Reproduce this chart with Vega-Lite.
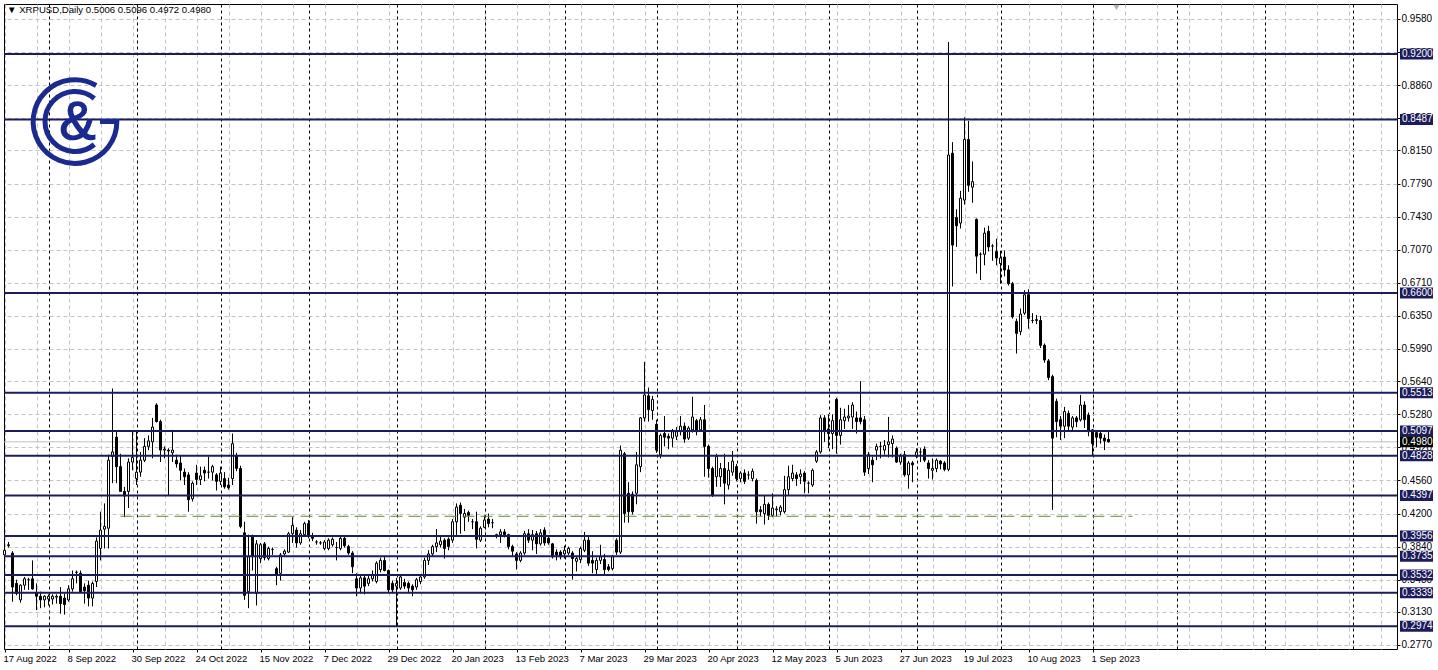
{
"$schema":"https://vega.github.io/schema/vega-lite/v6.json",
"width":1393,"height":645,
"autosize":{"type":"none"},
"padding":{"left":4,"top":4,"right":41,"bottom":21},
"background":"white",
"title":{"text":"▼ XRPUSD,Daily  0.5006 0.5096 0.4972 0.4980","anchor":"start","frame":"group","offset":-11,"dx":3,"fontSize":9.6,"fontWeight":"normal","font":"Liberation Sans","color":"black"},
"config":{"view":{"stroke":"black","strokeWidth":1},"axis":{"labelFont":"Liberation Sans","labelFontSize":10,"labelColor":"black","domain":false,"title":null,"zindex":0},"text":{"font":"Liberation Sans"}},
"resolve":{"axis":{"x":"independent","y":"independent"}},
"datasets":{
"levels":[{"v":0.92},{"v":0.8487},{"v":0.66},{"v":0.5513},{"v":0.5097},{"v":0.4828},{"v":0.4397},{"v":0.3956},{"v":0.3735},{"v":0.3532},{"v":0.3339},{"v":0.2974}],
"candles":[
{"d":"2022-08-17","o":0.375,"h":0.389,"l":0.366,"c":0.380},
{"d":"2022-08-18","o":0.385,"h":0.389,"l":0.383,"c":0.386},
{"d":"2022-08-19","o":0.377,"h":0.379,"l":0.324,"c":0.340},
{"d":"2022-08-22","o":0.344,"h":0.348,"l":0.331,"c":0.333},
{"d":"2022-08-23","o":0.326,"h":0.343,"l":0.323,"c":0.342},
{"d":"2022-08-24","o":0.342,"h":0.351,"l":0.337,"c":0.349},
{"d":"2022-08-25","o":0.348,"h":0.350,"l":0.337,"c":0.348},
{"d":"2022-08-26","o":0.349,"h":0.369,"l":0.337,"c":0.338},
{"d":"2022-08-29","o":0.334,"h":0.344,"l":0.315,"c":0.330},
{"d":"2022-08-30","o":0.330,"h":0.335,"l":0.317,"c":0.326},
{"d":"2022-08-31","o":0.326,"h":0.331,"l":0.318,"c":0.330},
{"d":"2022-09-01","o":0.327,"h":0.332,"l":0.320,"c":0.330},
{"d":"2022-09-02","o":0.327,"h":0.332,"l":0.321,"c":0.330},
{"d":"2022-09-05","o":0.329,"h":0.332,"l":0.322,"c":0.330},
{"d":"2022-09-06","o":0.330,"h":0.340,"l":0.311,"c":0.322},
{"d":"2022-09-07","o":0.328,"h":0.333,"l":0.310,"c":0.321},
{"d":"2022-09-08","o":0.326,"h":0.342,"l":0.324,"c":0.338},
{"d":"2022-09-09","o":0.338,"h":0.358,"l":0.335,"c":0.349},
{"d":"2022-09-12","o":0.356,"h":0.358,"l":0.344,"c":0.356},
{"d":"2022-09-13","o":0.355,"h":0.358,"l":0.334,"c":0.335},
{"d":"2022-09-14","o":0.340,"h":0.344,"l":0.322,"c":0.336},
{"d":"2022-09-15","o":0.342,"h":0.347,"l":0.319,"c":0.328},
{"d":"2022-09-16","o":0.328,"h":0.346,"l":0.319,"c":0.344},
{"d":"2022-09-19","o":0.346,"h":0.394,"l":0.340,"c":0.390},
{"d":"2022-09-20","o":0.382,"h":0.422,"l":0.369,"c":0.402},
{"d":"2022-09-21","o":0.403,"h":0.431,"l":0.382,"c":0.406},
{"d":"2022-09-22","o":0.404,"h":0.484,"l":0.382,"c":0.478},
{"d":"2022-09-23","o":0.482,"h":0.556,"l":0.453,"c":0.487},
{"d":"2022-09-26","o":0.503,"h":0.509,"l":0.453,"c":0.471},
{"d":"2022-09-27","o":0.471,"h":0.485,"l":0.444,"c":0.444},
{"d":"2022-09-28","o":0.444,"h":0.449,"l":0.416,"c":0.439},
{"d":"2022-09-29","o":0.444,"h":0.480,"l":0.426,"c":0.476},
{"d":"2022-09-30","o":0.476,"h":0.509,"l":0.467,"c":0.481},
{"d":"2022-10-03","o":0.458,"h":0.509,"l":0.451,"c":0.465},
{"d":"2022-10-04","o":0.465,"h":0.487,"l":0.460,"c":0.478},
{"d":"2022-10-05","o":0.478,"h":0.502,"l":0.476,"c":0.493},
{"d":"2022-10-06","o":0.493,"h":0.505,"l":0.489,"c":0.499},
{"d":"2022-10-07","o":0.498,"h":0.524,"l":0.480,"c":0.514},
{"d":"2022-10-10","o":0.538,"h":0.540,"l":0.519,"c":0.520},
{"d":"2022-10-11","o":0.520,"h":0.522,"l":0.476,"c":0.489},
{"d":"2022-10-12","o":0.489,"h":0.493,"l":0.480,"c":0.490},
{"d":"2022-10-13","o":0.489,"h":0.491,"l":0.440,"c":0.488},
{"d":"2022-10-14","o":0.486,"h":0.511,"l":0.476,"c":0.489},
{"d":"2022-10-17","o":0.478,"h":0.484,"l":0.470,"c":0.474},
{"d":"2022-10-18","o":0.475,"h":0.483,"l":0.456,"c":0.467},
{"d":"2022-10-19","o":0.465,"h":0.469,"l":0.451,"c":0.460},
{"d":"2022-10-20","o":0.462,"h":0.465,"l":0.422,"c":0.435},
{"d":"2022-10-21","o":0.436,"h":0.455,"l":0.433,"c":0.453},
{"d":"2022-10-24","o":0.464,"h":0.473,"l":0.451,"c":0.457},
{"d":"2022-10-25","o":0.457,"h":0.471,"l":0.451,"c":0.461},
{"d":"2022-10-26","o":0.467,"h":0.471,"l":0.455,"c":0.464},
{"d":"2022-10-27","o":0.465,"h":0.482,"l":0.458,"c":0.465},
{"d":"2022-10-28","o":0.465,"h":0.473,"l":0.456,"c":0.471},
{"d":"2022-10-31","o":0.462,"h":0.464,"l":0.445,"c":0.455},
{"d":"2022-11-01","o":0.455,"h":0.471,"l":0.451,"c":0.464},
{"d":"2022-11-02","o":0.458,"h":0.465,"l":0.447,"c":0.449},
{"d":"2022-11-03","o":0.451,"h":0.459,"l":0.446,"c":0.448},
{"d":"2022-11-04","o":0.458,"h":0.507,"l":0.451,"c":0.496},
{"d":"2022-11-07","o":0.483,"h":0.486,"l":0.466,"c":0.469},
{"d":"2022-11-08","o":0.469,"h":0.472,"l":0.404,"c":0.406},
{"d":"2022-11-09","o":0.399,"h":0.411,"l":0.326,"c":0.331},
{"d":"2022-11-10","o":0.335,"h":0.397,"l":0.317,"c":0.373},
{"d":"2022-11-11","o":0.395,"h":0.397,"l":0.358,"c":0.373},
{"d":"2022-11-14","o":0.333,"h":0.391,"l":0.320,"c":0.387},
{"d":"2022-11-15","o":0.371,"h":0.388,"l":0.366,"c":0.386},
{"d":"2022-11-16","o":0.387,"h":0.389,"l":0.369,"c":0.372},
{"d":"2022-11-17","o":0.371,"h":0.384,"l":0.369,"c":0.382},
{"d":"2022-11-18","o":0.381,"h":0.383,"l":0.375,"c":0.381},
{"d":"2022-11-21","o":0.360,"h":0.362,"l":0.342,"c":0.353},
{"d":"2022-11-22","o":0.355,"h":0.377,"l":0.347,"c":0.375},
{"d":"2022-11-23","o":0.376,"h":0.381,"l":0.374,"c":0.379},
{"d":"2022-11-24","o":0.378,"h":0.400,"l":0.377,"c":0.398},
{"d":"2022-11-25","o":0.398,"h":0.416,"l":0.388,"c":0.407},
{"d":"2022-11-28","o":0.402,"h":0.405,"l":0.383,"c":0.388},
{"d":"2022-11-29","o":0.388,"h":0.402,"l":0.386,"c":0.398},
{"d":"2022-11-30","o":0.397,"h":0.411,"l":0.395,"c":0.409},
{"d":"2022-12-01","o":0.409,"h":0.413,"l":0.393,"c":0.395},
{"d":"2022-12-02","o":0.396,"h":0.399,"l":0.390,"c":0.393},
{"d":"2022-12-05","o":0.389,"h":0.391,"l":0.386,"c":0.389},
{"d":"2022-12-06","o":0.388,"h":0.390,"l":0.386,"c":0.388},
{"d":"2022-12-07","o":0.382,"h":0.391,"l":0.380,"c":0.389},
{"d":"2022-12-08","o":0.382,"h":0.393,"l":0.380,"c":0.391},
{"d":"2022-12-09","o":0.386,"h":0.394,"l":0.384,"c":0.392},
{"d":"2022-12-12","o":0.383,"h":0.389,"l":0.369,"c":0.383},
{"d":"2022-12-13","o":0.382,"h":0.395,"l":0.380,"c":0.393},
{"d":"2022-12-14","o":0.393,"h":0.395,"l":0.383,"c":0.385},
{"d":"2022-12-15","o":0.384,"h":0.386,"l":0.375,"c":0.377},
{"d":"2022-12-16","o":0.377,"h":0.379,"l":0.355,"c":0.362},
{"d":"2022-12-19","o":0.349,"h":0.355,"l":0.330,"c":0.339},
{"d":"2022-12-20","o":0.339,"h":0.352,"l":0.333,"c":0.350},
{"d":"2022-12-21","o":0.350,"h":0.352,"l":0.332,"c":0.341},
{"d":"2022-12-22","o":0.344,"h":0.352,"l":0.341,"c":0.349},
{"d":"2022-12-23","o":0.349,"h":0.358,"l":0.346,"c":0.353},
{"d":"2022-12-26","o":0.346,"h":0.368,"l":0.344,"c":0.366},
{"d":"2022-12-27","o":0.359,"h":0.372,"l":0.356,"c":0.369},
{"d":"2022-12-28","o":0.369,"h":0.373,"l":0.357,"c":0.358},
{"d":"2022-12-29","o":0.358,"h":0.359,"l":0.334,"c":0.337},
{"d":"2022-12-30","o":0.344,"h":0.347,"l":0.333,"c":0.337},
{"d":"2023-01-02","o":0.341,"h":0.350,"l":0.297,"c":0.344},
{"d":"2023-01-03","o":0.339,"h":0.352,"l":0.337,"c":0.351},
{"d":"2023-01-04","o":0.345,"h":0.349,"l":0.338,"c":0.341},
{"d":"2023-01-05","o":0.344,"h":0.346,"l":0.333,"c":0.339},
{"d":"2023-01-06","o":0.341,"h":0.343,"l":0.330,"c":0.337},
{"d":"2023-01-09","o":0.340,"h":0.350,"l":0.337,"c":0.348},
{"d":"2023-01-10","o":0.346,"h":0.354,"l":0.343,"c":0.351},
{"d":"2023-01-11","o":0.351,"h":0.372,"l":0.349,"c":0.369},
{"d":"2023-01-12","o":0.369,"h":0.380,"l":0.364,"c":0.376},
{"d":"2023-01-13","o":0.376,"h":0.386,"l":0.373,"c":0.384},
{"d":"2023-01-16","o":0.384,"h":0.403,"l":0.378,"c":0.388},
{"d":"2023-01-17","o":0.386,"h":0.395,"l":0.383,"c":0.390},
{"d":"2023-01-18","o":0.391,"h":0.393,"l":0.371,"c":0.382},
{"d":"2023-01-19","o":0.392,"h":0.394,"l":0.380,"c":0.384},
{"d":"2023-01-20","o":0.391,"h":0.414,"l":0.388,"c":0.411},
{"d":"2023-01-23","o":0.411,"h":0.431,"l":0.395,"c":0.427},
{"d":"2023-01-24","o":0.429,"h":0.432,"l":0.398,"c":0.420},
{"d":"2023-01-25","o":0.416,"h":0.425,"l":0.401,"c":0.420},
{"d":"2023-01-26","o":0.421,"h":0.423,"l":0.411,"c":0.418},
{"d":"2023-01-27","o":0.411,"h":0.414,"l":0.403,"c":0.411},
{"d":"2023-01-30","o":0.411,"h":0.422,"l":0.382,"c":0.392},
{"d":"2023-01-31","o":0.391,"h":0.406,"l":0.389,"c":0.404},
{"d":"2023-02-01","o":0.405,"h":0.418,"l":0.404,"c":0.413},
{"d":"2023-02-02","o":0.414,"h":0.420,"l":0.405,"c":0.409},
{"d":"2023-02-03","o":0.410,"h":0.414,"l":0.404,"c":0.410},
{"d":"2023-02-06","o":0.397,"h":0.398,"l":0.393,"c":0.396},
{"d":"2023-02-07","o":0.397,"h":0.403,"l":0.388,"c":0.400},
{"d":"2023-02-08","o":0.400,"h":0.403,"l":0.394,"c":0.397},
{"d":"2023-02-09","o":0.397,"h":0.398,"l":0.381,"c":0.384},
{"d":"2023-02-10","o":0.384,"h":0.386,"l":0.373,"c":0.379},
{"d":"2023-02-13","o":0.376,"h":0.378,"l":0.359,"c":0.369},
{"d":"2023-02-14","o":0.369,"h":0.379,"l":0.367,"c":0.377},
{"d":"2023-02-15","o":0.377,"h":0.401,"l":0.375,"c":0.398},
{"d":"2023-02-16","o":0.398,"h":0.403,"l":0.388,"c":0.391},
{"d":"2023-02-17","o":0.391,"h":0.402,"l":0.380,"c":0.397},
{"d":"2023-02-20","o":0.398,"h":0.401,"l":0.376,"c":0.387},
{"d":"2023-02-21","o":0.387,"h":0.403,"l":0.385,"c":0.399},
{"d":"2023-02-22","o":0.402,"h":0.405,"l":0.385,"c":0.388},
{"d":"2023-02-23","o":0.393,"h":0.396,"l":0.386,"c":0.388},
{"d":"2023-02-24","o":0.387,"h":0.388,"l":0.371,"c":0.373},
{"d":"2023-02-27","o":0.378,"h":0.381,"l":0.369,"c":0.375},
{"d":"2023-02-28","o":0.378,"h":0.380,"l":0.370,"c":0.373},
{"d":"2023-03-01","o":0.376,"h":0.385,"l":0.371,"c":0.380},
{"d":"2023-03-02","o":0.377,"h":0.384,"l":0.375,"c":0.382},
{"d":"2023-03-03","o":0.377,"h":0.379,"l":0.348,"c":0.371},
{"d":"2023-03-06","o":0.368,"h":0.373,"l":0.357,"c":0.371},
{"d":"2023-03-07","o":0.370,"h":0.384,"l":0.366,"c":0.382},
{"d":"2023-03-08","o":0.380,"h":0.400,"l":0.378,"c":0.391},
{"d":"2023-03-09","o":0.391,"h":0.395,"l":0.363,"c":0.366},
{"d":"2023-03-10","o":0.369,"h":0.379,"l":0.355,"c":0.366},
{"d":"2023-03-13","o":0.359,"h":0.372,"l":0.353,"c":0.369},
{"d":"2023-03-14","o":0.369,"h":0.386,"l":0.365,"c":0.373},
{"d":"2023-03-15","o":0.370,"h":0.376,"l":0.353,"c":0.359},
{"d":"2023-03-16","o":0.362,"h":0.365,"l":0.357,"c":0.359},
{"d":"2023-03-17","o":0.360,"h":0.375,"l":0.358,"c":0.373},
{"d":"2023-03-20","o":0.391,"h":0.393,"l":0.375,"c":0.378},
{"d":"2023-03-21","o":0.378,"h":0.494,"l":0.376,"c":0.489},
{"d":"2023-03-22","o":0.485,"h":0.487,"l":0.410,"c":0.420},
{"d":"2023-03-23","o":0.442,"h":0.454,"l":0.410,"c":0.422},
{"d":"2023-03-24","o":0.441,"h":0.444,"l":0.419,"c":0.422},
{"d":"2023-03-27","o":0.442,"h":0.487,"l":0.430,"c":0.473},
{"d":"2023-03-28","o":0.471,"h":0.525,"l":0.465,"c":0.524},
{"d":"2023-03-29","o":0.524,"h":0.585,"l":0.520,"c":0.549},
{"d":"2023-03-30","o":0.548,"h":0.557,"l":0.520,"c":0.533},
{"d":"2023-03-31","o":0.532,"h":0.548,"l":0.522,"c":0.544},
{"d":"2023-04-03","o":0.517,"h":0.522,"l":0.486,"c":0.489},
{"d":"2023-04-04","o":0.484,"h":0.507,"l":0.480,"c":0.505},
{"d":"2023-04-05","o":0.507,"h":0.526,"l":0.493,"c":0.503},
{"d":"2023-04-06","o":0.504,"h":0.507,"l":0.490,"c":0.502},
{"d":"2023-04-07","o":0.502,"h":0.512,"l":0.492,"c":0.509},
{"d":"2023-04-10","o":0.504,"h":0.514,"l":0.500,"c":0.509},
{"d":"2023-04-11","o":0.509,"h":0.526,"l":0.505,"c":0.515},
{"d":"2023-04-12","o":0.515,"h":0.519,"l":0.497,"c":0.501},
{"d":"2023-04-13","o":0.502,"h":0.515,"l":0.500,"c":0.513},
{"d":"2023-04-14","o":0.511,"h":0.547,"l":0.508,"c":0.525},
{"d":"2023-04-17","o":0.521,"h":0.523,"l":0.505,"c":0.509},
{"d":"2023-04-18","o":0.511,"h":0.525,"l":0.509,"c":0.522},
{"d":"2023-04-19","o":0.522,"h":0.538,"l":0.460,"c":0.493},
{"d":"2023-04-20","o":0.493,"h":0.495,"l":0.459,"c":0.469},
{"d":"2023-04-21","o":0.469,"h":0.471,"l":0.438,"c":0.440},
{"d":"2023-04-24","o":0.460,"h":0.485,"l":0.449,"c":0.482},
{"d":"2023-04-25","o":0.460,"h":0.475,"l":0.449,"c":0.469},
{"d":"2023-04-26","o":0.469,"h":0.485,"l":0.430,"c":0.453},
{"d":"2023-04-27","o":0.451,"h":0.476,"l":0.446,"c":0.467},
{"d":"2023-04-28","o":0.465,"h":0.488,"l":0.461,"c":0.477},
{"d":"2023-05-01","o":0.471,"h":0.474,"l":0.455,"c":0.458},
{"d":"2023-05-02","o":0.458,"h":0.466,"l":0.454,"c":0.464},
{"d":"2023-05-03","o":0.464,"h":0.468,"l":0.452,"c":0.455},
{"d":"2023-05-04","o":0.462,"h":0.466,"l":0.457,"c":0.462},
{"d":"2023-05-05","o":0.458,"h":0.469,"l":0.455,"c":0.466},
{"d":"2023-05-08","o":0.456,"h":0.458,"l":0.409,"c":0.422},
{"d":"2023-05-09","o":0.424,"h":0.428,"l":0.417,"c":0.422},
{"d":"2023-05-10","o":0.420,"h":0.440,"l":0.408,"c":0.430},
{"d":"2023-05-11","o":0.430,"h":0.432,"l":0.413,"c":0.418},
{"d":"2023-05-12","o":0.418,"h":0.442,"l":0.416,"c":0.426},
{"d":"2023-05-15","o":0.424,"h":0.428,"l":0.417,"c":0.425},
{"d":"2023-05-16","o":0.422,"h":0.429,"l":0.418,"c":0.427},
{"d":"2023-05-17","o":0.422,"h":0.461,"l":0.420,"c":0.446},
{"d":"2023-05-18","o":0.446,"h":0.472,"l":0.440,"c":0.460},
{"d":"2023-05-19","o":0.458,"h":0.473,"l":0.455,"c":0.464},
{"d":"2023-05-22","o":0.462,"h":0.465,"l":0.450,"c":0.458},
{"d":"2023-05-23","o":0.460,"h":0.468,"l":0.452,"c":0.463},
{"d":"2023-05-24","o":0.464,"h":0.466,"l":0.442,"c":0.455},
{"d":"2023-05-25","o":0.453,"h":0.455,"l":0.442,"c":0.453},
{"d":"2023-05-26","o":0.451,"h":0.469,"l":0.449,"c":0.467},
{"d":"2023-05-29","o":0.477,"h":0.489,"l":0.475,"c":0.487},
{"d":"2023-05-30","o":0.487,"h":0.527,"l":0.485,"c":0.524},
{"d":"2023-05-31","o":0.524,"h":0.527,"l":0.498,"c":0.509},
{"d":"2023-06-01","o":0.512,"h":0.528,"l":0.491,"c":0.507},
{"d":"2023-06-02","o":0.507,"h":0.528,"l":0.490,"c":0.521},
{"d":"2023-06-05","o":0.544,"h":0.546,"l":0.485,"c":0.505},
{"d":"2023-06-06","o":0.505,"h":0.535,"l":0.495,"c":0.522},
{"d":"2023-06-07","o":0.521,"h":0.534,"l":0.512,"c":0.525},
{"d":"2023-06-08","o":0.524,"h":0.538,"l":0.520,"c":0.526},
{"d":"2023-06-09","o":0.525,"h":0.541,"l":0.512,"c":0.538},
{"d":"2023-06-12","o":0.524,"h":0.531,"l":0.507,"c":0.520},
{"d":"2023-06-13","o":0.524,"h":0.564,"l":0.517,"c":0.520},
{"d":"2023-06-14","o":0.522,"h":0.526,"l":0.461,"c":0.465},
{"d":"2023-06-15","o":0.469,"h":0.487,"l":0.463,"c":0.484},
{"d":"2023-06-16","o":0.478,"h":0.482,"l":0.454,"c":0.473},
{"d":"2023-06-19","o":0.489,"h":0.496,"l":0.478,"c":0.493},
{"d":"2023-06-20","o":0.493,"h":0.498,"l":0.480,"c":0.493},
{"d":"2023-06-21","o":0.489,"h":0.500,"l":0.484,"c":0.494},
{"d":"2023-06-22","o":0.495,"h":0.525,"l":0.481,"c":0.498},
{"d":"2023-06-23","o":0.496,"h":0.505,"l":0.481,"c":0.501},
{"d":"2023-06-26","o":0.491,"h":0.493,"l":0.475,"c":0.476},
{"d":"2023-06-27","o":0.476,"h":0.485,"l":0.473,"c":0.482},
{"d":"2023-06-28","o":0.484,"h":0.488,"l":0.460,"c":0.462},
{"d":"2023-06-29","o":0.462,"h":0.477,"l":0.447,"c":0.475},
{"d":"2023-06-30","o":0.475,"h":0.477,"l":0.454,"c":0.473},
{"d":"2023-07-03","o":0.482,"h":0.491,"l":0.480,"c":0.487},
{"d":"2023-07-04","o":0.487,"h":0.491,"l":0.476,"c":0.487},
{"d":"2023-07-05","o":0.490,"h":0.493,"l":0.476,"c":0.478},
{"d":"2023-07-06","o":0.475,"h":0.478,"l":0.458,"c":0.469},
{"d":"2023-07-07","o":0.467,"h":0.480,"l":0.457,"c":0.469},
{"d":"2023-07-10","o":0.469,"h":0.480,"l":0.465,"c":0.478},
{"d":"2023-07-11","o":0.477,"h":0.478,"l":0.468,"c":0.474},
{"d":"2023-07-12","o":0.475,"h":0.477,"l":0.466,"c":0.468},
{"d":"2023-07-13","o":0.468,"h":0.933,"l":0.466,"c":0.810},
{"d":"2023-07-14","o":0.812,"h":0.824,"l":0.667,"c":0.712},
{"d":"2023-07-17","o":0.742,"h":0.751,"l":0.710,"c":0.733},
{"d":"2023-07-18","o":0.736,"h":0.771,"l":0.730,"c":0.763},
{"d":"2023-07-19","o":0.761,"h":0.851,"l":0.756,"c":0.827},
{"d":"2023-07-20","o":0.827,"h":0.847,"l":0.770,"c":0.777},
{"d":"2023-07-21","o":0.775,"h":0.803,"l":0.758,"c":0.781},
{"d":"2023-07-24","o":0.740,"h":0.741,"l":0.681,"c":0.700},
{"d":"2023-07-25","o":0.702,"h":0.704,"l":0.674,"c":0.702},
{"d":"2023-07-26","o":0.702,"h":0.731,"l":0.690,"c":0.725},
{"d":"2023-07-27","o":0.727,"h":0.733,"l":0.705,"c":0.710},
{"d":"2023-07-28","o":0.711,"h":0.713,"l":0.695,"c":0.711},
{"d":"2023-07-31","o":0.705,"h":0.719,"l":0.690,"c":0.698},
{"d":"2023-08-01","o":0.692,"h":0.706,"l":0.670,"c":0.698},
{"d":"2023-08-02","o":0.699,"h":0.706,"l":0.678,"c":0.685},
{"d":"2023-08-03","o":0.685,"h":0.690,"l":0.668,"c":0.670},
{"d":"2023-08-04","o":0.670,"h":0.672,"l":0.632,"c":0.634},
{"d":"2023-08-07","o":0.629,"h":0.632,"l":0.594,"c":0.616},
{"d":"2023-08-08","o":0.618,"h":0.643,"l":0.614,"c":0.637},
{"d":"2023-08-09","o":0.638,"h":0.663,"l":0.636,"c":0.658},
{"d":"2023-08-10","o":0.658,"h":0.664,"l":0.621,"c":0.632},
{"d":"2023-08-11","o":0.630,"h":0.638,"l":0.627,"c":0.630},
{"d":"2023-08-14","o":0.630,"h":0.636,"l":0.626,"c":0.631},
{"d":"2023-08-15","o":0.630,"h":0.635,"l":0.600,"c":0.603},
{"d":"2023-08-16","o":0.603,"h":0.605,"l":0.584,"c":0.587},
{"d":"2023-08-17","o":0.586,"h":0.588,"l":0.565,"c":0.568},
{"d":"2023-08-18","o":0.569,"h":0.571,"l":0.424,"c":0.502},
{"d":"2023-08-21","o":0.542,"h":0.545,"l":0.503,"c":0.520},
{"d":"2023-08-22","o":0.522,"h":0.526,"l":0.500,"c":0.515},
{"d":"2023-08-23","o":0.515,"h":0.536,"l":0.502,"c":0.531},
{"d":"2023-08-24","o":0.529,"h":0.532,"l":0.509,"c":0.515},
{"d":"2023-08-25","o":0.514,"h":0.526,"l":0.511,"c":0.524},
{"d":"2023-08-28","o":0.524,"h":0.526,"l":0.514,"c":0.520},
{"d":"2023-08-29","o":0.522,"h":0.549,"l":0.520,"c":0.538},
{"d":"2023-08-30","o":0.538,"h":0.542,"l":0.513,"c":0.522},
{"d":"2023-08-31","o":0.527,"h":0.530,"l":0.504,"c":0.509},
{"d":"2023-09-01","o":0.511,"h":0.512,"l":0.483,"c":0.496},
{"d":"2023-09-04","o":0.508,"h":0.510,"l":0.492,"c":0.503},
{"d":"2023-09-05","o":0.507,"h":0.510,"l":0.496,"c":0.502},
{"d":"2023-09-06","o":0.502,"h":0.506,"l":0.489,"c":0.499},
{"d":"2023-09-07","o":0.5006,"h":0.5096,"l":0.4972,"c":0.4980}
]},
"layer":[
{"data":{"values":[{}]},"mark":{"type":"rule","color":"#c0c0c0","strokeWidth":1},"encoding":{"y":{"datum":0.498,"type":"quantitative","axis":null}}},
{"data":{"name":"candles"},"mark":{"type":"rule","color":"black","strokeWidth":1},
 "encoding":{
  "x":{"field":"d","type":"ordinal","scale":{"type":"point","padding":0.125,"domain":["2022-08-17","2022-08-18","2022-08-19","2022-08-22","2022-08-23","2022-08-24","2022-08-25","2022-08-26","2022-08-29","2022-08-30","2022-08-31","2022-09-01","2022-09-02","2022-09-05","2022-09-06","2022-09-07","2022-09-08","2022-09-09","2022-09-12","2022-09-13","2022-09-14","2022-09-15","2022-09-16","2022-09-19","2022-09-20","2022-09-21","2022-09-22","2022-09-23","2022-09-26","2022-09-27","2022-09-28","2022-09-29","2022-09-30","2022-10-03","2022-10-04","2022-10-05","2022-10-06","2022-10-07","2022-10-10","2022-10-11","2022-10-12","2022-10-13","2022-10-14","2022-10-17","2022-10-18","2022-10-19","2022-10-20","2022-10-21","2022-10-24","2022-10-25","2022-10-26","2022-10-27","2022-10-28","2022-10-31","2022-11-01","2022-11-02","2022-11-03","2022-11-04","2022-11-07","2022-11-08","2022-11-09","2022-11-10","2022-11-11","2022-11-14","2022-11-15","2022-11-16","2022-11-17","2022-11-18","2022-11-21","2022-11-22","2022-11-23","2022-11-24","2022-11-25","2022-11-28","2022-11-29","2022-11-30","2022-12-01","2022-12-02","2022-12-05","2022-12-06","2022-12-07","2022-12-08","2022-12-09","2022-12-12","2022-12-13","2022-12-14","2022-12-15","2022-12-16","2022-12-19","2022-12-20","2022-12-21","2022-12-22","2022-12-23","2022-12-26","2022-12-27","2022-12-28","2022-12-29","2022-12-30","2023-01-02","2023-01-03","2023-01-04","2023-01-05","2023-01-06","2023-01-09","2023-01-10","2023-01-11","2023-01-12","2023-01-13","2023-01-16","2023-01-17","2023-01-18","2023-01-19","2023-01-20","2023-01-23","2023-01-24","2023-01-25","2023-01-26","2023-01-27","2023-01-30","2023-01-31","2023-02-01","2023-02-02","2023-02-03","2023-02-06","2023-02-07","2023-02-08","2023-02-09","2023-02-10","2023-02-13","2023-02-14","2023-02-15","2023-02-16","2023-02-17","2023-02-20","2023-02-21","2023-02-22","2023-02-23","2023-02-24","2023-02-27","2023-02-28","2023-03-01","2023-03-02","2023-03-03","2023-03-06","2023-03-07","2023-03-08","2023-03-09","2023-03-10","2023-03-13","2023-03-14","2023-03-15","2023-03-16","2023-03-17","2023-03-20","2023-03-21","2023-03-22","2023-03-23","2023-03-24","2023-03-27","2023-03-28","2023-03-29","2023-03-30","2023-03-31","2023-04-03","2023-04-04","2023-04-05","2023-04-06","2023-04-07","2023-04-10","2023-04-11","2023-04-12","2023-04-13","2023-04-14","2023-04-17","2023-04-18","2023-04-19","2023-04-20","2023-04-21","2023-04-24","2023-04-25","2023-04-26","2023-04-27","2023-04-28","2023-05-01","2023-05-02","2023-05-03","2023-05-04","2023-05-05","2023-05-08","2023-05-09","2023-05-10","2023-05-11","2023-05-12","2023-05-15","2023-05-16","2023-05-17","2023-05-18","2023-05-19","2023-05-22","2023-05-23","2023-05-24","2023-05-25","2023-05-26","2023-05-29","2023-05-30","2023-05-31","2023-06-01","2023-06-02","2023-06-05","2023-06-06","2023-06-07","2023-06-08","2023-06-09","2023-06-12","2023-06-13","2023-06-14","2023-06-15","2023-06-16","2023-06-19","2023-06-20","2023-06-21","2023-06-22","2023-06-23","2023-06-26","2023-06-27","2023-06-28","2023-06-29","2023-06-30","2023-07-03","2023-07-04","2023-07-05","2023-07-06","2023-07-07","2023-07-10","2023-07-11","2023-07-12","2023-07-13","2023-07-14","2023-07-17","2023-07-18","2023-07-19","2023-07-20","2023-07-21","2023-07-24","2023-07-25","2023-07-26","2023-07-27","2023-07-28","2023-07-31","2023-08-01","2023-08-02","2023-08-03","2023-08-04","2023-08-07","2023-08-08","2023-08-09","2023-08-10","2023-08-11","2023-08-14","2023-08-15","2023-08-16","2023-08-17","2023-08-18","2023-08-21","2023-08-22","2023-08-23","2023-08-24","2023-08-25","2023-08-28","2023-08-29","2023-08-30","2023-08-31","2023-09-01","2023-09-04","2023-09-05","2023-09-06","2023-09-07","2023-09-08","2023-09-11","2023-09-12","2023-09-13","2023-09-14","2023-09-15","2023-09-18","2023-09-19","2023-09-20","2023-09-21","2023-09-22","2023-09-25","2023-09-26","2023-09-27","2023-09-28","2023-09-29","2023-10-02","2023-10-03","2023-10-04","2023-10-05","2023-10-06","2023-10-09","2023-10-10","2023-10-11","2023-10-12","2023-10-13","2023-10-16","2023-10-17","2023-10-18","2023-10-19","2023-10-20","2023-10-23","2023-10-24","2023-10-25","2023-10-26","2023-10-27","2023-10-30","2023-10-31","2023-11-01","2023-11-02","2023-11-03","2023-11-06","2023-11-07","2023-11-08","2023-11-09","2023-11-10","2023-11-13","2023-11-14","2023-11-15","2023-11-16","2023-11-17","2023-11-20","2023-11-21","2023-11-22","2023-11-23","2023-11-24","2023-11-27","2023-11-28","2023-11-29","2023-11-30","2023-12-01","2023-12-04","2023-12-05","2023-12-06","2023-12-07","2023-12-08","2023-12-11","2023-12-12","2023-12-13","2023-12-14","2023-12-15","2023-12-18"]},
   "axis":{"orient":"bottom","title":null,"values":["2022-08-17","2022-09-08","2022-09-30","2022-10-24","2022-11-15","2022-12-07","2022-12-29","2023-01-20","2023-02-13","2023-03-07","2023-03-29","2023-04-20","2023-05-12","2023-06-05","2023-06-27","2023-07-19","2023-08-10","2023-09-01"],"labelExpr":"utcFormat(toDate(datum.value), '%-d %b %Y')","labelAlign":"left","labelBaseline":"top","labelAngle":0,"labelPadding":1,"labelOffset":-1.5,"labelFontSize":9.5,"tickSize":3,"tickColor":"black","grid":false,"domain":false,"labelOverlap":false,"labelBound":false}},
  "y":{"field":"l","type":"quantitative","scale":{"domain":[0.2726,0.9743],"nice":false,"zero":false},
   "axis":{"orient":"right","title":null,"values":[0.958,0.922,0.886,0.8505,0.815,0.779,0.743,0.707,0.671,0.635,0.599,0.564,0.528,0.492,0.456,0.42,0.384,0.348,0.313,0.277],"format":".4f","tickSize":3,"tickColor":"black","labelPadding":1,"labelBaseline":"middle","grid":true,"gridColor":"#c4c4c4","gridDash":[4,3],"domain":false,"labelOverlap":false,"labelBound":false}},
  "y2":{"field":"h"}}},
{"data":{"name":"candles"},"mark":{"type":"bar","width":2,"stroke":"black","strokeWidth":1},
 "encoding":{
  "x":{"field":"d","type":"ordinal","axis":{"orient":"bottom","title":null,"values":["2022-08-17","2022-08-29","2022-09-08","2022-09-20","2022-09-30","2022-10-12","2022-10-24","2022-11-03","2022-11-15","2022-11-25","2022-12-07","2022-12-19","2022-12-29","2023-01-10","2023-01-20","2023-02-01","2023-02-13","2023-02-23","2023-03-07","2023-03-17","2023-03-29","2023-04-10","2023-04-20","2023-05-02","2023-05-12","2023-05-24","2023-06-05","2023-06-15","2023-06-27","2023-07-07","2023-07-19","2023-07-31","2023-08-10","2023-08-22","2023-09-01","2023-09-13","2023-09-25","2023-10-05","2023-10-17","2023-10-27","2023-11-08","2023-11-20","2023-11-30","2023-12-12"],"labels":false,"ticks":false,"domain":false,"grid":true,"gridColor":"#c4c4c4","gridDash":[4,3]}},
  "y":{"field":"o","type":"quantitative","axis":null},
  "y2":{"field":"c"},
  "fill":{"condition":{"test":"datum.c >= datum.o","value":"white"},"value":"black"}}},
{"data":{"values":[{}]},"mark":{"type":"rule","color":"#5e8a2e","strokeWidth":1,"strokeDash":[12,6]},
 "encoding":{
  "x":{"datum":"2022-09-27","type":"ordinal","axis":{"orient":"bottom","title":null,"values":["2022-09-01","2022-10-03","2022-11-01","2022-12-01","2023-01-02","2023-02-01","2023-03-01","2023-04-03","2023-05-01","2023-06-01","2023-07-03","2023-08-01","2023-09-01","2023-10-02","2023-11-01","2023-12-01"],"labels":false,"ticks":false,"domain":false,"grid":true,"gridColor":"black","gridDash":[3,3]}},
  "x2":{"datum":"2023-09-15"},
  "y":{"datum":0.417,"type":"quantitative","axis":null}}},
{"data":{"name":"levels"},"mark":{"type":"rule","color":"#1c1c5c","strokeWidth":2},"encoding":{"y":{"field":"v","type":"quantitative","axis":null}}},
{"data":{"name":"levels"},"mark":{"type":"rect","color":"#1c1c5c","xOffset":3,"x2Offset":36,"yOffset":-5.5,"y2Offset":5.5},
 "encoding":{"x":{"value":"width"},"x2":{"value":"width"},"y":{"field":"v","type":"quantitative","axis":null},"y2":{"field":"v"}}},
{"data":{"name":"levels"},"mark":{"type":"text","align":"left","baseline":"middle","dx":5,"color":"white","fontSize":10,"font":"Liberation Sans"},
 "encoding":{"x":{"value":"width"},"y":{"field":"v","type":"quantitative","axis":null},"text":{"field":"v","type":"quantitative","format":".4f"}}},
{"data":{"values":[{}]},"mark":{"type":"rect","color":"black","xOffset":3,"x2Offset":36,"yOffset":-5.5,"y2Offset":5.5},
 "encoding":{"x":{"value":"width"},"x2":{"value":"width"},"y":{"datum":0.498,"type":"quantitative","axis":null},"y2":{"datum":0.498}}},
{"data":{"values":[{}]},"mark":{"type":"text","align":"left","baseline":"middle","dx":5,"color":"white","fontSize":10,"font":"Liberation Sans","text":"0.4980"},
 "encoding":{"x":{"value":"width"},"y":{"datum":0.498,"type":"quantitative","axis":null}}},
{"data":{"values":[{}]},"mark":{"type":"point","shape":"M0.47,-0.8A0.93,0.93,0,1,0,0.93,0L0.556,0M0.429,-0.511A0.667,0.667,0,1,0,0.429,0.511","size":8100,"filled":false,"stroke":"#1b2a8e","strokeWidth":5,"opacity":1,"xOffset":2.5},
 "encoding":{"x":{"datum":"2022-09-09","type":"ordinal","axis":null},"y":{"datum":0.8465,"type":"quantitative","axis":null}}},
{"data":{"values":[{}]},"mark":{"type":"text","text":"&","fontSize":54,"fontWeight":"normal","font":"Liberation Sans","color":"#1b2a8e","stroke":"#1b2a8e","strokeWidth":1.5,"align":"center","baseline":"middle","xOffset":5,"yOffset":2},
 "encoding":{"x":{"datum":"2022-09-09","type":"ordinal","axis":null},"y":{"datum":0.8465,"type":"quantitative","axis":null}}},
{"data":{"values":[{}]},"mark":{"type":"point","shape":"triangle-down","size":40,"filled":true,"color":"#b4b4b4","opacity":1},
 "encoding":{"x":{"datum":"2023-09-11","type":"ordinal","axis":null},"y":{"datum":0.9705,"type":"quantitative","axis":null}}}
]
}
